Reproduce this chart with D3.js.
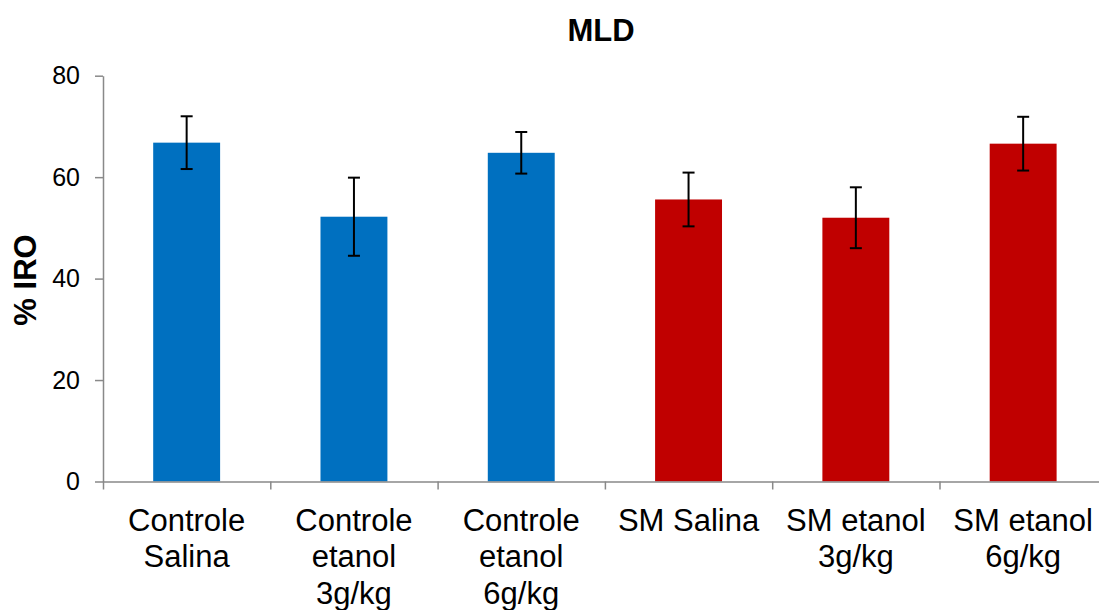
<!DOCTYPE html>
<html>
<head>
<meta charset="utf-8">
<script src="https://cdn.jsdelivr.net/npm/d3@7"></script>
<style>
  body { margin: 0; background: #fff; }
  text { font-family: "Liberation Sans", Arial, sans-serif; fill: #000; }
</style>
</head>
<body>
<div id="chart"></div>
<script>
// data
var categories = ["Controle Salina", "Controle etanol 3g/kg", "Controle etanol 6g/kg",
                  "SM Salina", "SM etanol 3g/kg", "SM etanol 6g/kg"];
var labelLines = [["Controle", "Salina"], ["Controle", "etanol", "3g/kg"], ["Controle", "etanol", "6g/kg"],
                  ["SM Salina"], ["SM etanol", "3g/kg"], ["SM etanol", "6g/kg"]];
var groups = ["Controle", "Controle", "Controle", "SM", "SM", "SM"];
var values = [66.8, 52.2, 64.8, 55.6, 52.0, 66.6];
var errors = [5.2, 7.7, 4.1, 5.3, 6.0, 5.3];
var yTicks = [0, 20, 40, 60, 80];

var width = 1099, height = 610;
var margin = {top: 75.7, left: 103, bottom: 481.5};

var svg = d3.select("#chart")
  .append("svg")
    .attr("width", width)
    .attr("height", height);

var color = d3.scaleOrdinal()
  .domain(["Controle", "SM"])
  .range(["#0070C0", "#C00000"]);

// x: one band per category, bars 40% of the step
var x = d3.scaleBand()
  .domain(categories)
  .range([margin.left, margin.left + 6 * 167.3])
  .paddingInner(0.6)
  .paddingOuter(0.3);

// boundary scale for the category separator ticks
var xEdge = d3.scaleLinear()
  .domain([0, categories.length])
  .range(x.range());

var y = d3.scaleLinear()
  .domain([0, 80])
  .range([margin.bottom, margin.top]);

// title
svg.append("text")
  .attr("x", 601)
  .attr("y", 41)
  .attr("text-anchor", "middle")
  .style("font-size", "31px")
  .style("font-weight", "bold")
  .text("MLD");

// y axis title
svg.append("text")
  .attr("transform", "translate(36,280) rotate(-90)")
  .attr("text-anchor", "middle")
  .style("font-size", "31px")
  .style("font-weight", "bold")
  .text("% IRO");

// bars
svg.selectAll(".bar")
  .data(categories)
  .enter().append("rect")
    .attr("class", "bar")
    .attr("x", function(d) { return x(d); })
    .attr("y", function(d, i) { return y(values[i]); })
    .attr("width", x.bandwidth())
    .attr("height", function(d, i) { return y(0) - y(values[i]); })
    .style("fill", function(d, i) { return color(groups[i]); });

// error bars
var err = svg.selectAll(".err")
  .data(categories)
  .enter().append("g")
    .attr("class", "err")
    .attr("transform", function(d) { return "translate(" + (x(d) + x.bandwidth() / 2) + ",0)"; })
    .style("stroke", "#000")
    .style("stroke-width", 2);
err.append("line")
  .attr("y1", function(d, i) { return y(values[i] + errors[i]); })
  .attr("y2", function(d, i) { return y(values[i] - errors[i]); });
err.append("line")
  .attr("x1", -6).attr("x2", 6)
  .attr("y1", function(d, i) { return y(values[i] + errors[i]); })
  .attr("y2", function(d, i) { return y(values[i] + errors[i]); });
err.append("line")
  .attr("x1", -6).attr("x2", 6)
  .attr("y1", function(d, i) { return y(values[i] - errors[i]); })
  .attr("y2", function(d, i) { return y(values[i] - errors[i]); });

// y axis
var yAxis = svg.append("g")
  .attr("transform", "translate(" + margin.left + ",0)")
  .call(d3.axisLeft(y).tickValues(yTicks).tickSize(8).tickSizeOuter(0).tickPadding(15));
yAxis.selectAll("text")
  .style("font-size", "25px")
  .style("font-family", "'Liberation Sans', Arial, sans-serif")
  .attr("fill", "#000");

// x axis with ticks between categories
var xAxis = svg.append("g")
  .attr("transform", "translate(0," + y(0) + ")")
  .call(d3.axisBottom(xEdge).tickValues(d3.range(categories.length + 1)).tickSize(8).tickSizeOuter(0).tickFormat(""));

svg.selectAll(".domain, .tick line")
  .attr("stroke", "#898989")
  .attr("stroke-width", 1.5);

// category labels
var labels = svg.selectAll(".cat")
  .data(categories)
  .enter().append("text")
    .attr("class", "cat")
    .attr("text-anchor", "middle")
    .attr("transform", function(d) { return "translate(" + (x(d) + x.bandwidth() / 2) + "," + (y(0) + 49) + ")"; })
    .style("font-size", "31px");
labels.selectAll("tspan")
  .data(function(d, i) { return labelLines[i]; })
  .enter().append("tspan")
    .attr("x", 0)
    .attr("y", function(d, j) { return j * 36.5; })
    .text(function(d) { return d; });
</script>
</body>
</html>
